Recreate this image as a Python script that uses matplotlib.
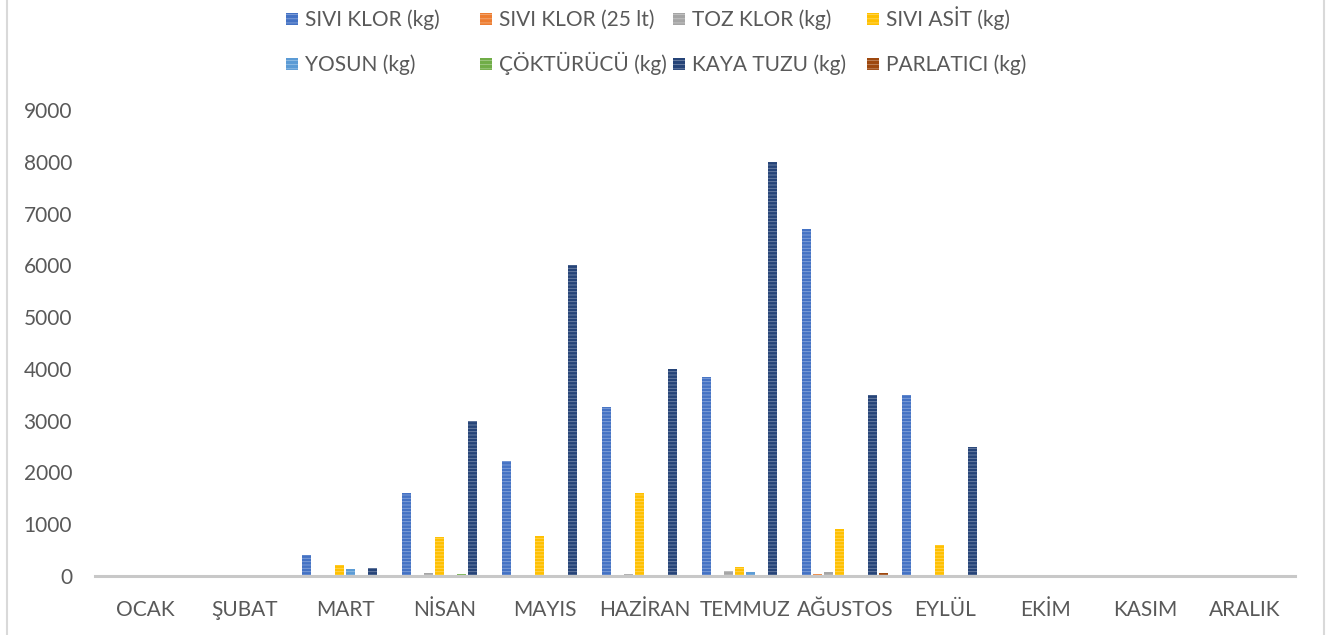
import numpy as np
import matplotlib
matplotlib.use("Agg")
import matplotlib.pyplot as plt
from matplotlib.patches import Rectangle
from matplotlib.lines import Line2D

# Monthly chemical usage (kg)
months = ["OCAK", "ŞUBAT", "MART", "NİSAN", "MAYIS", "HAZİRAN",
          "TEMMUZ", "AĞUSTOS", "EYLÜL", "EKİM", "KASIM", "ARALIK"]

series_names = ["SIVI KLOR (kg)", "SIVI KLOR (25 lt)", "TOZ KLOR (kg)", "SIVI ASİT (kg)",
                "YOSUN (kg)", "ÇÖKTÜRÜCÜ (kg)", "KAYA TUZU (kg)", "PARLATICI (kg)"]

sivi_klor = [0, 0, 400, 1600, 2220, 3270, 3840, 6700, 3500, 0, 0, 0]
sivi_klor_25 = [0, 0, 0, 0, 0, 0, 0, 30, 0, 0, 0, 0]
toz_klor = [0, 0, 0, 50, 10, 30, 100, 70, 10, 0, 0, 0]
sivi_asit = [0, 0, 220, 750, 780, 1600, 180, 900, 600, 0, 0, 0]
yosun = [0, 0, 130, 0, 0, 0, 70, 0, 0, 0, 0, 0]
cokturucu = [0, 0, 0, 30, 0, 0, 0, 0, 0, 0, 0, 0]
kaya_tuzu = [0, 0, 150, 3000, 6000, 4000, 8000, 3500, 2500, 0, 0, 0]
parlatici = [0, 0, 0, 0, 0, 0, 0, 60, 0, 0, 0, 0]

series = [sivi_klor, sivi_klor_25, toz_klor, sivi_asit,
          yosun, cokturucu, kaya_tuzu, parlatici]
colors = ["#4472C4", "#ED7D31", "#A5A5A5", "#FFC000",
          "#5B9BD5", "#70AD47", "#264478", "#9E480E"]

plt.rcParams['font.family'] = ['Lato', 'DejaVu Sans']
plt.rcParams['hatch.linewidth'] = 0.6
text_color = "#595959"
fs = 15


def lighten(c, amt=0.35):
    rgb = np.array(matplotlib.colors.to_rgb(c))
    return tuple(rgb + (1 - rgb) * amt)


W, H = 1327, 635
fig = plt.figure(figsize=(W / 100, H / 100), dpi=100)
ax = fig.add_axes([95 / W, (H - 576) / H, 1200 / W, 466 / H])

x = np.arange(len(months))
slot = 0.11
for j, (vals, c) in enumerate(zip(series, colors)):
    ax.bar(x + (j - 3.5) * slot, vals, width=0.095, color=c,
           edgecolor=lighten(c), linewidth=0, hatch="-----")

ax.set_xlim(-0.5, len(months) - 0.5)
ax.set_ylim(0, 9000)
ax.set_yticks(np.arange(0, 9001, 1000))
ax.tick_params(axis='y', length=0, pad=16.5, labelsize=fs, labelcolor=text_color)
ax.set_xticks(x)
ax.set_xticklabels(months)
ax.tick_params(axis='x', length=0, pad=17, labelsize=fs, labelcolor=text_color)
for s in ["top", "right", "left"]:
    ax.spines[s].set_visible(False)
ax.spines["bottom"].set_color("#C8C8C8")
ax.spines["bottom"].set_linewidth(2.2)

# legend, placed like the original (two rows of four)
col_x = [286, 480, 673, 867]
row_y = [19, 64]
for k, (name, c) in enumerate(zip(series_names, colors)):
    px = col_x[k % 4]
    py = row_y[k // 4]
    fig.add_artist(Rectangle((px / W, 1 - (py + 6) / H), 12 / W, 12 / H,
                             transform=fig.transFigure, facecolor=c,
                             edgecolor=lighten(c), linewidth=0, hatch="----"))
    fig.text((px + 19) / W, 1 - (py + 7) / H, name, fontsize=fs, color=text_color,
             va="baseline", ha="left")

# chart area border
for bx in [6.5, 1323.5]:
    fig.add_artist(Line2D([bx / W, bx / W], [0, 1], transform=fig.transFigure,
                          color="#D9D9D9", linewidth=1.5))

fig.savefig("out.png", dpi=100)
